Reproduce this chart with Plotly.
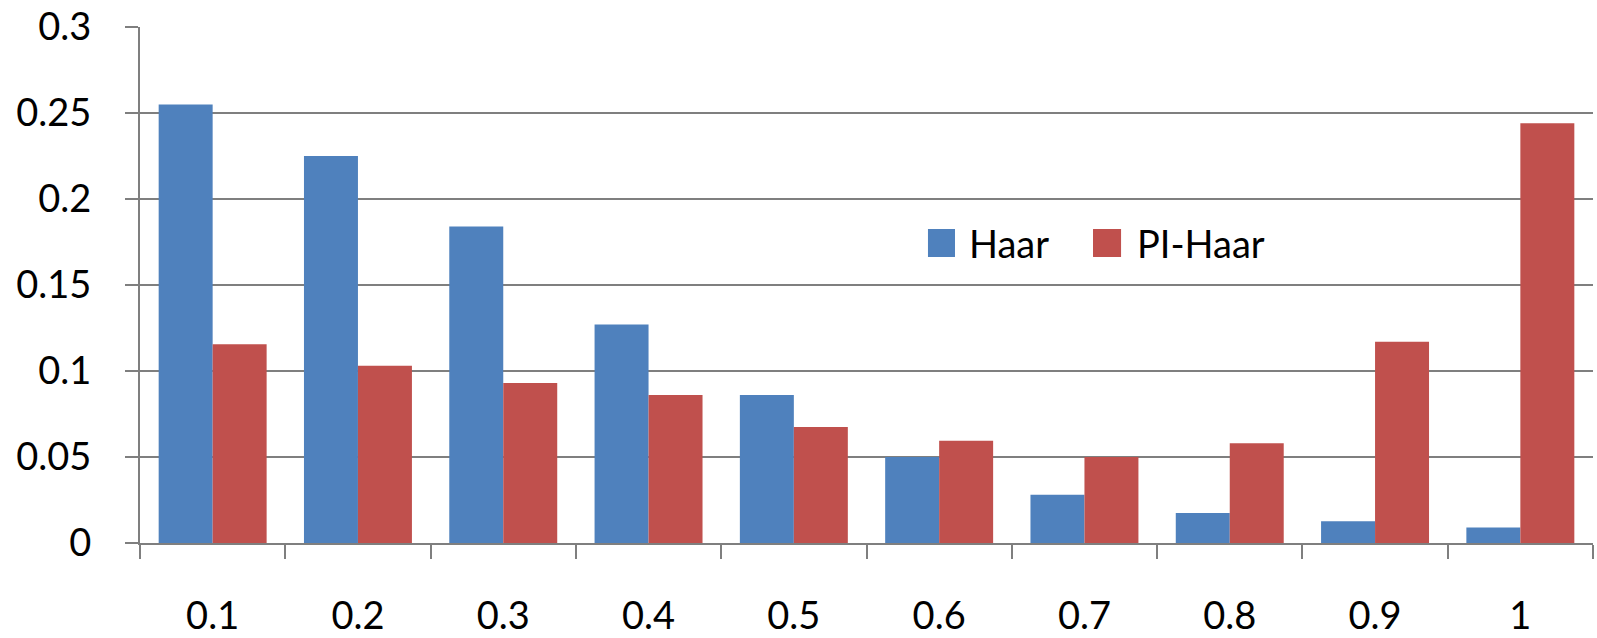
import plotly.graph_objects as go

# Threshold categories on the x axis
categories = ["0.1", "0.2", "0.3", "0.4", "0.5", "0.6", "0.7", "0.8", "0.9", "1"]

# Fraction per threshold for each method
haar = [0.255, 0.225, 0.184, 0.127, 0.086, 0.050, 0.028, 0.0175, 0.0126, 0.009]
pi_haar = [0.1155, 0.103, 0.093, 0.086, 0.0675, 0.0595, 0.050, 0.058, 0.117, 0.244]

series_names = ["Haar", "PI-Haar"]
series_colors = ["#4F81BD", "#C0504D"]

FONT = "Lato"
GRID = "#7F7F7F"

fig = go.Figure()
for name, vals, color in zip(series_names, [haar, pi_haar], series_colors):
    fig.add_trace(go.Bar(
        x=categories, y=vals, name=name,
        marker=dict(color=color, line=dict(width=0)),
        showlegend=False,
    ))

# Legend drawn as swatches + labels inside the plot area
legend_items = [
    (series_names[0], series_colors[0], 0.5423, 0.5609, 0.5692),
    (series_names[1], series_colors[1], 0.6559, 0.6752, 0.6848),
]
for name, color, x0, x1, xt in legend_items:
    fig.add_shape(type="rect", xref="paper", yref="paper",
                  x0=x0, x1=x1, y0=0.5543, y1=0.6085,
                  fillcolor=color, line=dict(width=0), layer="above")
    fig.add_annotation(xref="paper", yref="paper", x=xt, y=0.5814,
                       text=name, showarrow=False, xanchor="left", yanchor="middle",
                       font=dict(family=FONT, size=38, color="black"))

fig.update_layout(
    width=1597, height=638,
    margin=dict(l=140, r=4, t=27, b=95, autoexpand=False),
    paper_bgcolor="white", plot_bgcolor="white",
    barmode="group", bargap=0.257, bargroupgap=0,
    font=dict(family=FONT, size=38, color="black"),
)
fig.update_xaxes(
    type="category", tickson="boundaries", automargin=False,
    showline=True, linecolor=GRID, linewidth=2,
    ticks="outside", ticklen=14, tickwidth=2, tickcolor=GRID,
    showgrid=False, ticklabelstandoff=38,
)
fig.update_yaxes(
    range=[0, 0.3], dtick=0.05, tick0=0, automargin=False,
    showline=True, linecolor=GRID, linewidth=2,
    ticks="outside", ticklen=13, tickwidth=2, tickcolor=GRID,
    showgrid=True, gridcolor=GRID, gridwidth=2,
    zeroline=False, ticklabelstandoff=26,
)

fig.write_html("out.html")
